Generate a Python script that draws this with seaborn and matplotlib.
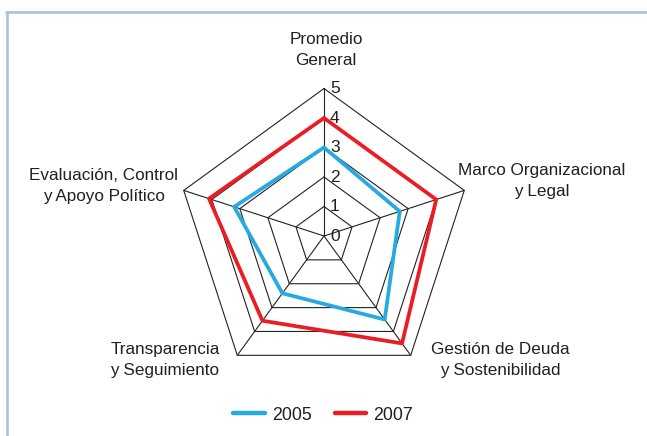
import numpy as np
import pandas as pd
import matplotlib
matplotlib.use("Agg")
import matplotlib.pyplot as plt
import seaborn as sns

categories = ["Promedio\nGeneral", "Marco Organizacional\ny Legal", "Gestión de Deuda\ny Sostenibilidad",
              "Transparencia\ny Seguimiento", "Evaluación, Control\ny Apoyo Político"]
values_2005 = [3.0, 2.7, 3.5, 2.4, 3.2]
values_2007 = [4.0, 4.0, 4.5, 3.55, 4.1]
series_names = ["2005", "2007"]
tick_levels = [0, 1, 2, 3, 4, 5]
colors = {"2005": "#27aae1", "2007": "#ec1c24"}

sns.set_theme(style="white")
plt.rcParams['font.family'] = ['Liberation Sans', 'DejaVu Sans']

fig = plt.figure(figsize=(6.47, 4.36), dpi=100)
ax = fig.add_axes([0, 0, 1, 1])
scale = 29.5
cx, cy = 324, 236
ax.set_xlim(-cx / scale, (647 - cx) / scale)
ax.set_ylim(-(436 - cy) / scale, cy / scale)
ax.set_axis_off()

n = len(categories)
angles = np.pi / 2 - np.arange(n) * 2 * np.pi / n

# grid pentagons
for lv in tick_levels[1:]:
    xs = np.append(lv * np.cos(angles), lv * np.cos(angles[0]))
    ys = np.append(lv * np.sin(angles), lv * np.sin(angles[0]))
    ax.plot(xs, ys, color="#222222", lw=0.8, zorder=1)
for a in angles:
    ax.plot([0, 5 * np.cos(a)], [0, 5 * np.sin(a)], color="#222222", lw=0.8, zorder=1)

# tick labels
for lv in tick_levels:
    ax.text(0.2, lv, str(lv), ha="left", va="center", fontsize=12.5, color="#231f20")

# series
rows = []
for name, vals in zip(series_names, [values_2005, values_2007]):
    closed = list(vals) + [vals[0]]
    angs = list(angles) + [angles[0]]
    for i, (v, a) in enumerate(zip(closed, angs)):
        rows.append({"serie": name, "order": i, "x": v * np.cos(a), "y": v * np.sin(a)})
df = pd.DataFrame(rows)
sns.lineplot(data=df, x="x", y="y", hue="serie", units="serie", estimator=None, sort=False,
             palette=colors, lw=2.7, ax=ax, legend=False, zorder=3)

# category labels (pixel positions)
label_pos = [(326, 50), (542, 181), (500, 360), (165, 360), (104, 186)]
for lab, (px, py) in zip(categories, label_pos):
    ax.text((px - cx) / scale, (cy - py) / scale, lab, ha="center", va="center",
            fontsize=12.3, color="#231f20", linespacing=1.42)

# legend
from matplotlib.lines import Line2D
handles = [Line2D([], [], color=colors[s], lw=3.2) for s in series_names]
fig.legend(handles, series_names, loc="center", bbox_to_anchor=(323 / 647, 1 - 415 / 436),
           ncol=2, frameon=False, fontsize=12.8, handlelength=1.75, columnspacing=1.3,
           handletextpad=0.4, labelcolor="#231f20")

# frame border (top and left)
fig.add_artist(Line2D([7 / 647, 7 / 647], [0, 1 - 12 / 436], color="#a9bfdf", lw=1.8,
                      transform=fig.transFigure))
fig.add_artist(Line2D([6 / 647, 1], [1 - 12 / 436, 1 - 12 / 436], color="#a9bfdf", lw=1.8,
                      transform=fig.transFigure))

fig.savefig("out.png", dpi=100, facecolor="white")
